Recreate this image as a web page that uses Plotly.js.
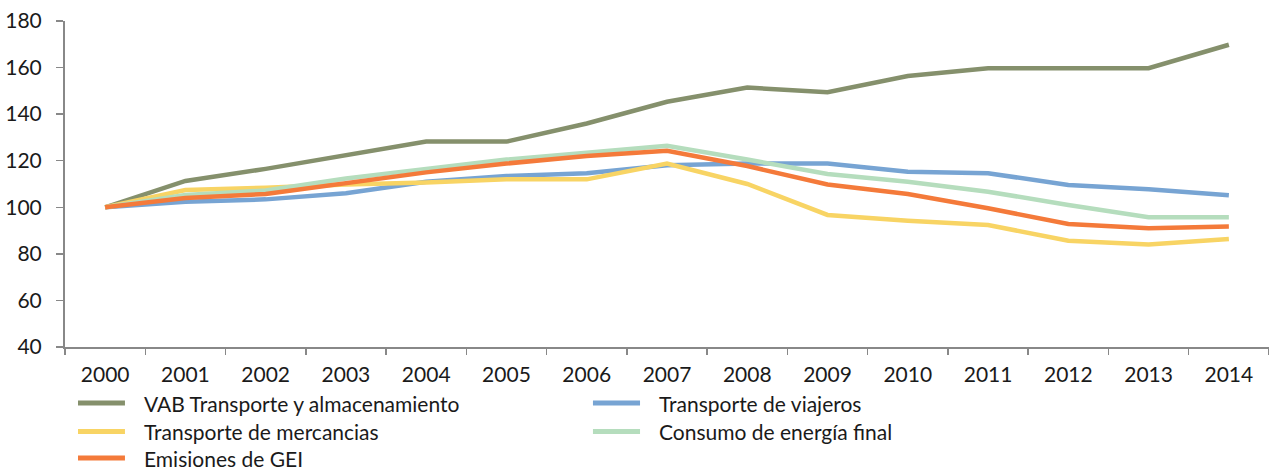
<!DOCTYPE html>
<html>
<head>
<meta charset="utf-8">
<script src="https://cdn.plot.ly/plotly-3.0.1.min.js"></script>
<style>html,body{margin:0;padding:0;background:#fff;}#chart{width:1269px;height:470px;}</style>
</head>
<body>
<div id="chart"></div>
<script>
const years = ["2000","2001","2002","2003","2004","2005","2006","2007","2008","2009","2010","2011","2012","2013","2014"];
const seriesNames = ["VAB Transporte y almacenamiento","Transporte de viajeros","Transporte de mercancias","Consumo de energía final","Emisiones de GEI"];
const vab        = [100,111.3,116.5,122.3,128.2,128.2,136.0,145.3,151.4,149.4,156.4,159.7,159.7,159.7,169.8];
const viajeros   = [100,102.4,103.4,106.0,111.0,113.4,114.6,118.1,118.8,118.8,115.3,114.6,109.6,107.7,105.2];
const mercancias = [100,107.4,108.4,109.8,110.6,112.0,112.0,118.8,110.0,96.7,94.2,92.4,85.6,84.0,86.4];
const energia    = [100,105.3,107.2,112.4,116.5,120.5,123.4,126.4,120.5,114.3,111.0,106.7,101.0,95.7,95.7];
const gei        = [100,104.0,105.7,110.4,115.0,118.8,122.0,124.3,117.7,109.8,105.7,99.6,92.8,91.0,91.7];
const colors = ["#85906C","#77A4D3","#F8D464","#B5DDBD","#F47A3A"];
const allSeries = [vab, viajeros, mercancias, energia, gei];

const traces = allSeries.map((s, i) => ({
  x: years, y: s, type: "scatter", mode: "lines", name: seriesNames[i],
  line: {color: colors[i], width: 4.5}, showlegend: false
}));

// Manual legend layout (2 columns, 3 rows), in paper coordinates
const legCols = [{x0: 0.0108, x1: 0.0498, tx: 0.0648}, {x0: 0.4385, x1: 0.4776, tx: 0.4925}];
const legRows = [-0.1718, -0.2592, -0.3405];
const shapes = [], annotations = [];
seriesNames.forEach((nm, i) => {
  const c = legCols[i % 2], ry = legRows[Math.floor(i / 2)];
  shapes.push({type: "line", xref: "paper", yref: "paper", x0: c.x0, x1: c.x1, y0: ry, y1: ry,
    line: {color: colors[i], width: 5}});
  annotations.push({xref: "paper", yref: "paper", x: c.tx, y: ry, xanchor: "left", yanchor: "middle",
    text: nm, showarrow: false, borderpad: 0,
    font: {family: "Lato, 'Open Sans', sans-serif", size: 21, color: "#1a1a1a"}});
});

const font = {family: "Lato, 'Open Sans', sans-serif", size: 21, color: "#1a1a1a"};
const layout = {
  width: 1269, height: 470,
  margin: {l: 65, r: 0, t: 21, b: 123},
  paper_bgcolor: "#fff", plot_bgcolor: "#fff",
  font: font,
  showlegend: false,
  shapes: shapes, annotations: annotations,
  xaxis: {
    type: "category", range: [-0.5, 14.5], tickson: "boundaries", automargin: false,
    showline: true, linecolor: "#888888", linewidth: 2,
    ticks: "outside", ticklen: 6, tickcolor: "#888888", tickwidth: 1.5,
    showgrid: false, zeroline: false, ticklabelstandoff: 8,
    tickfont: font
  },
  yaxis: {
    range: [40, 180], tickvals: [40,60,80,100,120,140,160,180], automargin: false,
    showline: true, linecolor: "#888888", linewidth: 2,
    ticks: "outside", ticklen: 7, tickcolor: "#888888", tickwidth: 1.5,
    showgrid: false, zeroline: false, ticklabelstandoff: 10,
    tickfont: font
  }
};
Plotly.newPlot("chart", traces, layout, {displayModeBar: false, staticPlot: true});
</script>
</body>
</html>
